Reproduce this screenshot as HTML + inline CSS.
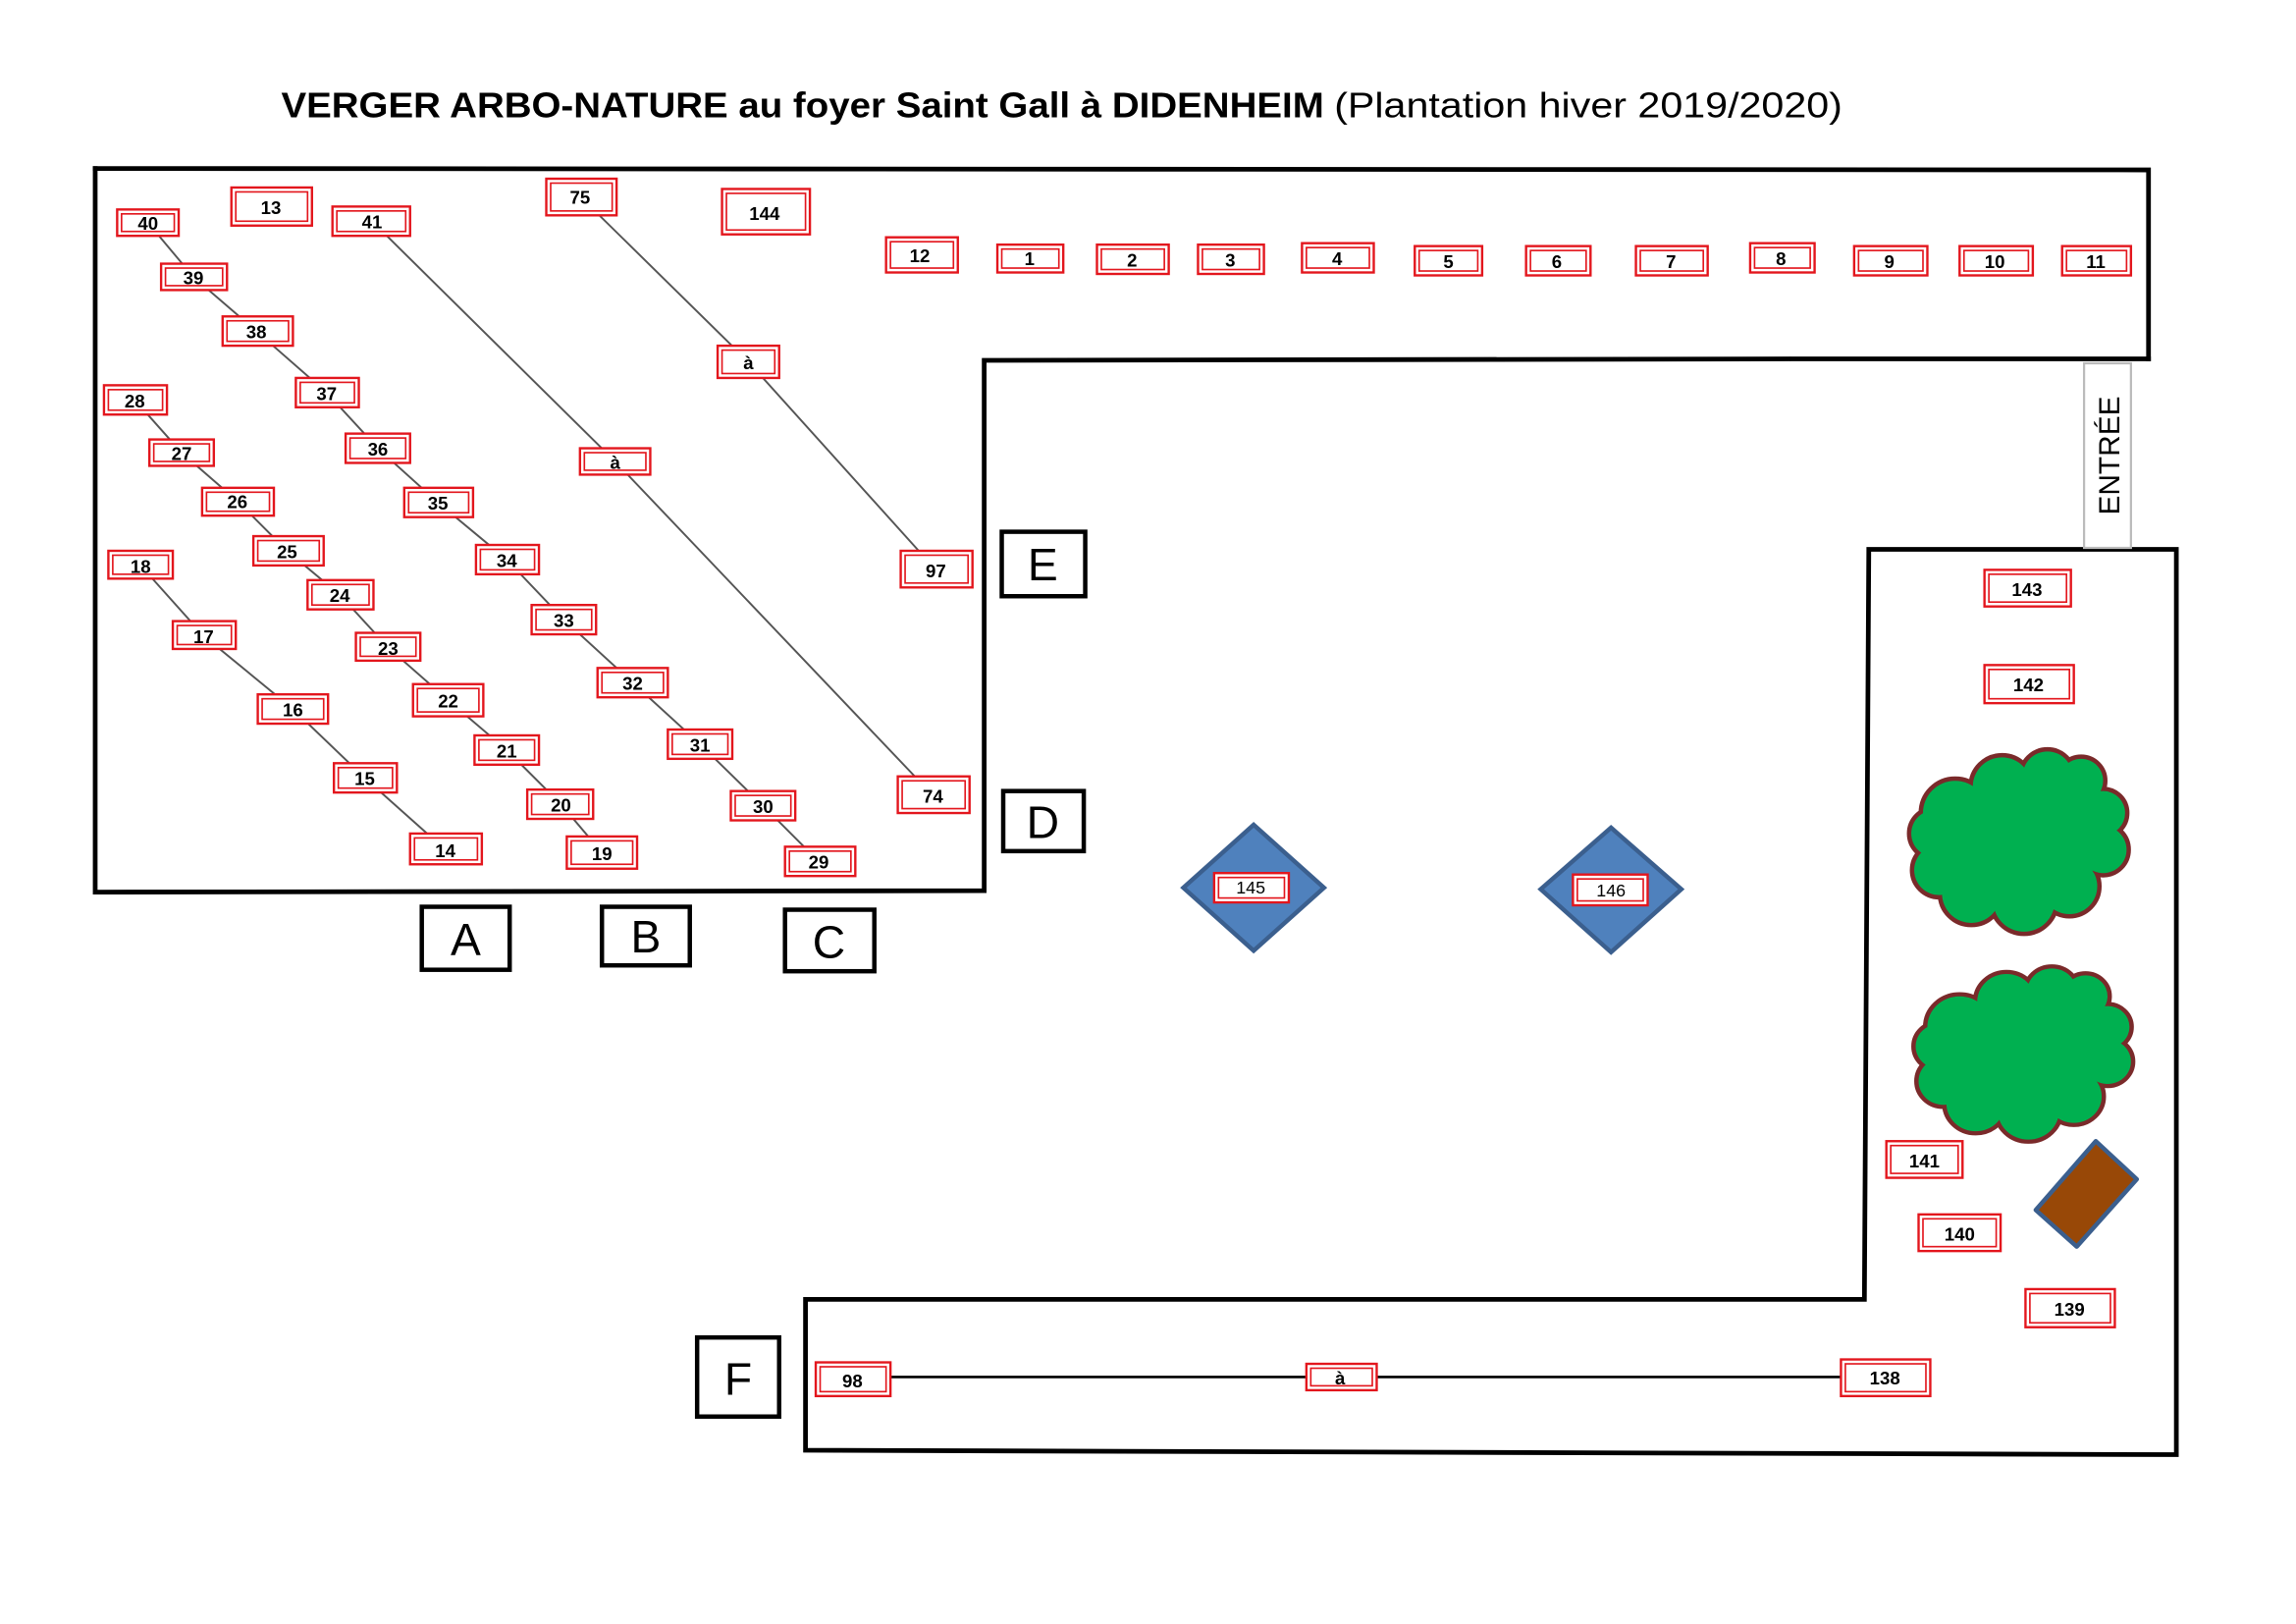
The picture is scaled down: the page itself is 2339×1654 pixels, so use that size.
<!DOCTYPE html>
<html><head><meta charset="utf-8"><style>
html,body{margin:0;padding:0;background:#fff}
svg{display:block}
.o{fill:#fff;stroke:#e3161d;stroke-width:1.6}
.i{fill:none;stroke:#e3161d;stroke-width:1.1}
.t{font-family:"Liberation Sans",sans-serif;font-weight:bold;font-size:12.5px;text-anchor:middle;fill:#000}
.n{font-family:"Liberation Sans",sans-serif;font-size:12px;text-anchor:middle;fill:#000}
.w{fill:none;stroke:#000;stroke-width:3.2;stroke-linecap:square}
.l{stroke:#555;stroke-width:1.3;fill:none}
.L{fill:#fff;stroke:#000;stroke-width:3}
.LT{font-family:"Liberation Sans",sans-serif;font-size:31px;text-anchor:middle;fill:#000}
</style></head><body>
<svg width="2339" height="1654" viewBox="0 0 1567.7 1108.6" preserveAspectRatio="none" xmlns="http://www.w3.org/2000/svg">
<text x="192" y="80" textLength="712" lengthAdjust="spacingAndGlyphs" style="font-family:'Liberation Sans',sans-serif;font-weight:bold;font-size:24px">VERGER ARBO-NATURE au foyer Saint Gall à DIDENHEIM</text>
<text x="911" y="80" textLength="347" lengthAdjust="spacingAndGlyphs" style="font-family:'Liberation Sans',sans-serif;font-size:24px">(Plantation hiver 2019/2020)</text>

<polyline class="w" points="65,115 1467,116 1467,245"/>
<polyline class="w" points="1467,245 1224,245"/>
<polyline class="w" points="1221,245 672,246 672,608 65,609 65,115"/>
<polyline class="w" points="1276,375 1486,375 1486,993 550,990 550,887 1273,887 1276,375"/>
<rect x="1423" y="248" width="32" height="126" fill="#fff" stroke="#bbb" stroke-width="1.5"/>
<text x="0" y="0" transform="translate(1447,311) rotate(-90)" style="font-family:'Liberation Sans',sans-serif;font-size:20px;text-anchor:middle">ENTRÉE</text>

<polyline class="l" points="101,152 132,189 175,226 223,268 258,306 299,343 346,382 385,423 432,466 478,508 521,550 559,588"/>
<polyline class="l" points="92,273 124,309 162,342 196,376 232,406 265,442 306,478 346,512 383,549 411,582"/>
<polyline class="l" points="96,386 139,434 200,484 249,531 304,580"/>
<polyline class="l" points="254,151 420,315 637,543"/>
<polyline class="l" points="396,134 511,247 639,389"/>
<line x1="582" y1="940" x2="1287" y2="940" stroke="#000" stroke-width="1.8"/>

<rect class="L" x="684" y="363" width="57" height="44"/><text class="LT" x="712" y="396">E</text>
<rect class="L" x="685" y="540" width="55" height="41"/><text class="LT" x="712" y="572">D</text>
<rect class="L" x="288" y="619" width="60" height="43"/><text class="LT" x="318" y="652">A</text>
<rect class="L" x="411" y="619" width="60" height="40"/><text class="LT" x="441" y="650">B</text>
<rect class="L" x="536" y="621" width="61" height="42"/><text class="LT" x="566" y="654">C</text>
<rect class="L" x="476" y="913" width="56" height="54"/><text class="LT" x="504" y="952">F</text>

<polygon points="856,563 904,606 856,649 808,606" fill="#4f81bd" stroke="#3b5f8e" stroke-width="3"/>
<polygon points="1100,565 1148,607 1100,650 1052,607" fill="#4f81bd" stroke="#3b5f8e" stroke-width="3"/>
<rect class="o" x="829" y="596" width="51" height="20"/><rect class="i" x="832" y="599" width="45" height="14"/><text class="n" x="854" y="610">145</text>
<rect class="o" x="1074" y="597" width="51" height="21"/><rect class="i" x="1077" y="600" width="45" height="15"/><text class="n" x="1100" y="612">146</text>

<defs>
<g id="cl">
<circle cx="1335" cy="555" r="22"/><circle cx="1367" cy="537" r="20"/><circle cx="1398" cy="530" r="17"/><circle cx="1421" cy="533" r="15"/><circle cx="1436" cy="555" r="15"/><circle cx="1436" cy="580" r="16"/><circle cx="1413" cy="605" r="19"/><circle cx="1382" cy="615" r="21"/><circle cx="1346" cy="610" r="20"/><circle cx="1324" cy="594" r="17"/><circle cx="1321" cy="569" r="16"/><circle cx="1405" cy="550" r="20"/><ellipse cx="1378" cy="575" rx="52" ry="38"/>
</g>
</defs>
<use href="#cl" fill="#7a2a2a" stroke="#7a2a2a" stroke-width="6"/>
<use href="#cl" fill="#00b050"/>
<g transform="translate(3,145) translate(0,575) scale(1,0.95) translate(0,-575)">
<use href="#cl" fill="#7a2a2a" stroke="#7a2a2a" stroke-width="6"/>
<use href="#cl" fill="#00b050"/>
</g>
<polygon points="1431,779 1459,805 1418,851 1390,826" fill="#984807" stroke="#3b5f8e" stroke-width="3" stroke-linejoin="round"/>

<g>
<rect class="o" x="80" y="143" width="42" height="18"/><rect class="i" x="83" y="146" width="36" height="12"/><text class="t" x="101" y="157">40</text>
<rect class="o" x="158" y="128" width="55" height="26"/><rect class="i" x="161" y="131" width="49" height="20"/><text class="t" x="185" y="146">13</text>
<rect class="o" x="227" y="141" width="53" height="20"/><rect class="i" x="230" y="144" width="47" height="14"/><text class="t" x="254" y="156">41</text>
<rect class="o" x="373" y="122" width="48" height="25"/><rect class="i" x="376" y="125" width="42" height="19"/><text class="t" x="396" y="139">75</text>
<rect class="o" x="493" y="129" width="60" height="31"/><rect class="i" x="496" y="132" width="54" height="25"/><text class="t" x="522" y="150">144</text>
<rect class="o" x="605" y="162" width="49" height="24"/><rect class="i" x="608" y="165" width="43" height="18"/><text class="t" x="628" y="179">12</text>
<rect class="o" x="681" y="167" width="45" height="19"/><rect class="i" x="684" y="170" width="39" height="13"/><text class="t" x="703" y="181">1</text>
<rect class="o" x="749" y="167" width="49" height="20"/><rect class="i" x="752" y="170" width="43" height="14"/><text class="t" x="773" y="182">2</text>
<rect class="o" x="818" y="167" width="45" height="20"/><rect class="i" x="821" y="170" width="39" height="14"/><text class="t" x="840" y="182">3</text>
<rect class="o" x="889" y="166" width="49" height="20"/><rect class="i" x="892" y="169" width="43" height="14"/><text class="t" x="913" y="181">4</text>
<rect class="o" x="966" y="168" width="46" height="20"/><rect class="i" x="969" y="171" width="40" height="14"/><text class="t" x="989" y="183">5</text>
<rect class="o" x="1042" y="168" width="44" height="20"/><rect class="i" x="1045" y="171" width="38" height="14"/><text class="t" x="1063" y="183">6</text>
<rect class="o" x="1117" y="168" width="49" height="20"/><rect class="i" x="1120" y="171" width="43" height="14"/><text class="t" x="1141" y="183">7</text>
<rect class="o" x="1195" y="166" width="44" height="20"/><rect class="i" x="1198" y="169" width="38" height="14"/><text class="t" x="1216" y="181">8</text>
<rect class="o" x="1266" y="168" width="50" height="20"/><rect class="i" x="1269" y="171" width="44" height="14"/><text class="t" x="1290" y="183">9</text>
<rect class="o" x="1338" y="168" width="50" height="20"/><rect class="i" x="1341" y="171" width="44" height="14"/><text class="t" x="1362" y="183">10</text>
<rect class="o" x="1408" y="168" width="47" height="20"/><rect class="i" x="1411" y="171" width="41" height="14"/><text class="t" x="1431" y="183">11</text>

<rect class="o" x="110" y="180" width="45" height="18"/><rect class="i" x="113" y="183" width="39" height="12"/><text class="t" x="132" y="194">39</text>
<rect class="o" x="152" y="216" width="48" height="20"/><rect class="i" x="155" y="219" width="42" height="14"/><text class="t" x="175" y="231">38</text>
<rect class="o" x="202" y="258" width="43" height="20"/><rect class="i" x="205" y="261" width="37" height="14"/><text class="t" x="223" y="273">37</text>
<rect class="o" x="236" y="296" width="44" height="20"/><rect class="i" x="239" y="299" width="38" height="14"/><text class="t" x="258" y="311">36</text>
<rect class="o" x="276" y="333" width="47" height="20"/><rect class="i" x="279" y="336" width="41" height="14"/><text class="t" x="299" y="348">35</text>
<rect class="o" x="325" y="372" width="43" height="20"/><rect class="i" x="328" y="375" width="37" height="14"/><text class="t" x="346" y="387">34</text>
<rect class="o" x="363" y="413" width="44" height="20"/><rect class="i" x="366" y="416" width="38" height="14"/><text class="t" x="385" y="428">33</text>
<rect class="o" x="408" y="456" width="48" height="20"/><rect class="i" x="411" y="459" width="42" height="14"/><text class="t" x="432" y="471">32</text>
<rect class="o" x="456" y="498" width="44" height="20"/><rect class="i" x="459" y="501" width="38" height="14"/><text class="t" x="478" y="513">31</text>
<rect class="o" x="499" y="540" width="44" height="20"/><rect class="i" x="502" y="543" width="38" height="14"/><text class="t" x="521" y="555">30</text>
<rect class="o" x="536" y="578" width="48" height="20"/><rect class="i" x="539" y="581" width="42" height="14"/><text class="t" x="559" y="593">29</text>

<rect class="o" x="71" y="263" width="43" height="20"/><rect class="i" x="74" y="266" width="37" height="14"/><text class="t" x="92" y="278">28</text>
<rect class="o" x="102" y="300" width="44" height="18"/><rect class="i" x="105" y="303" width="38" height="12"/><text class="t" x="124" y="314">27</text>
<rect class="o" x="138" y="333" width="49" height="19"/><rect class="i" x="141" y="336" width="43" height="13"/><text class="t" x="162" y="347">26</text>
<rect class="o" x="173" y="366" width="48" height="20"/><rect class="i" x="176" y="369" width="42" height="14"/><text class="t" x="196" y="381">25</text>
<rect class="o" x="210" y="396" width="45" height="20"/><rect class="i" x="213" y="399" width="39" height="14"/><text class="t" x="232" y="411">24</text>
<rect class="o" x="243" y="432" width="44" height="19"/><rect class="i" x="246" y="435" width="38" height="13"/><text class="t" x="265" y="447">23</text>
<rect class="o" x="282" y="467" width="48" height="22"/><rect class="i" x="285" y="470" width="42" height="16"/><text class="t" x="306" y="483">22</text>
<rect class="o" x="324" y="502" width="44" height="20"/><rect class="i" x="327" y="505" width="38" height="14"/><text class="t" x="346" y="517">21</text>
<rect class="o" x="360" y="539" width="45" height="20"/><rect class="i" x="363" y="542" width="39" height="14"/><text class="t" x="383" y="554">20</text>
<rect class="o" x="387" y="571" width="48" height="22"/><rect class="i" x="390" y="574" width="42" height="16"/><text class="t" x="411" y="587">19</text>

<rect class="o" x="74" y="376" width="44" height="19"/><rect class="i" x="77" y="379" width="38" height="13"/><text class="t" x="96" y="391">18</text>
<rect class="o" x="118" y="424" width="43" height="19"/><rect class="i" x="121" y="427" width="37" height="13"/><text class="t" x="139" y="439">17</text>
<rect class="o" x="176" y="474" width="48" height="20"/><rect class="i" x="179" y="477" width="42" height="14"/><text class="t" x="200" y="489">16</text>
<rect class="o" x="228" y="521" width="43" height="20"/><rect class="i" x="231" y="524" width="37" height="14"/><text class="t" x="249" y="536">15</text>
<rect class="o" x="280" y="569" width="49" height="21"/><rect class="i" x="283" y="572" width="43" height="15"/><text class="t" x="304" y="585">14</text>

<rect class="o" x="490" y="236" width="42" height="22"/><rect class="i" x="493" y="239" width="36" height="16"/><text class="t" x="511" y="252">à</text>
<rect class="o" x="396" y="306" width="48" height="18"/><rect class="i" x="399" y="309" width="42" height="12"/><text class="t" x="420" y="320">à</text>
<rect class="o" x="615" y="376" width="49" height="25"/><rect class="i" x="618" y="379" width="43" height="19"/><text class="t" x="639" y="394">97</text>
<rect class="o" x="613" y="530" width="49" height="25"/><rect class="i" x="616" y="533" width="43" height="19"/><text class="t" x="637" y="548">74</text>

<rect class="o" x="1355" y="389" width="59" height="25"/><rect class="i" x="1358" y="392" width="53" height="19"/><text class="t" x="1384" y="407">143</text>
<rect class="o" x="1355" y="454" width="61" height="26"/><rect class="i" x="1358" y="457" width="55" height="20"/><text class="t" x="1385" y="472">142</text>
<rect class="o" x="1288" y="779" width="52" height="25"/><rect class="i" x="1291" y="782" width="46" height="19"/><text class="t" x="1314" y="797">141</text>
<rect class="o" x="1310" y="829" width="56" height="25"/><rect class="i" x="1313" y="832" width="50" height="19"/><text class="t" x="1338" y="847">140</text>
<rect class="o" x="1383" y="880" width="61" height="26"/><rect class="i" x="1386" y="883" width="55" height="20"/><text class="t" x="1413" y="898">139</text>
<rect class="o" x="557" y="930" width="51" height="23"/><rect class="i" x="560" y="933" width="45" height="17"/><text class="t" x="582" y="947">98</text>
<rect class="o" x="892" y="931" width="48" height="18"/><rect class="i" x="895" y="934" width="42" height="12"/><text class="t" x="915" y="945">à</text>
<rect class="o" x="1257" y="928" width="61" height="25"/><rect class="i" x="1260" y="931" width="55" height="19"/><text class="t" x="1287" y="945">138</text>
</g>
</svg>
</body></html>
